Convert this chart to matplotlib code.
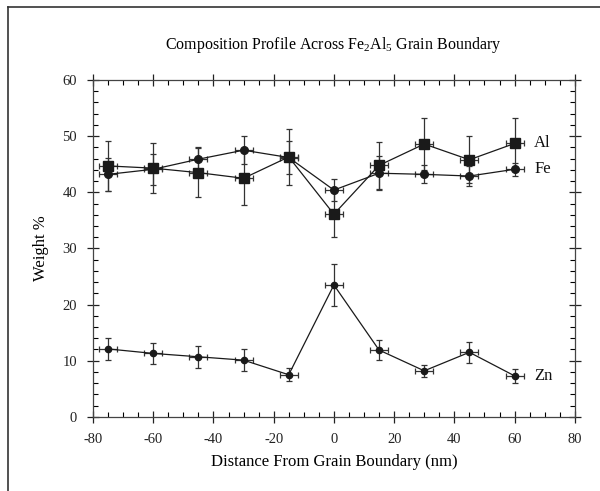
import matplotlib
matplotlib.use("Agg")
import matplotlib.pyplot as plt
from matplotlib.lines import Line2D
from matplotlib.ticker import MultipleLocator

plt.rcParams['font.family'] = ['Liberation Serif', 'DejaVu Serif']
plt.rcParams['axes.unicode_minus'] = False
plt.rcParams['mathtext.fontset'] = 'custom'
plt.rcParams['mathtext.rm'] = 'Liberation Serif'
plt.rcParams['mathtext.it'] = 'Liberation Serif:italic'
plt.rcParams['mathtext.bf'] = 'Liberation Serif:bold'

distance = [-75, -60, -45, -30, -15, 0, 15, 30, 45, 60]
dist_err = [3, 3, 3, 3, 3, 3, 3, 3, 3, 3]

al = [44.7, 44.3, 43.5, 42.5, 46.3, 36.1, 44.8, 48.6, 45.8, 48.7]
al_err = [4.5, 4.5, 4.4, 4.8, 5.0, 4.0, 4.2, 4.7, 4.2, 4.6]

fe = [43.2, 44.1, 45.9, 47.5, 46.2, 40.4, 43.4, 43.2, 42.9, 44.1]
fe_err = [3.0, 2.8, 2.2, 2.5, 3.0, 2.0, 3.0, 1.6, 1.8, 1.2]

zn = [12.1, 11.3, 10.7, 10.1, 7.5, 23.5, 11.9, 8.2, 11.5, 7.3]
zn_err = [2.0, 1.9, 2.0, 2.0, 1.2, 3.7, 1.8, 1.1, 1.9, 1.2]

fig = plt.figure(figsize=(6.0, 4.91), dpi=100)
ax = fig.add_axes([0.155, 0.151, 0.803, 0.686])

col = '#1a1a1a'
common = dict(color=col, ecolor='#333333', elinewidth=0.9, capsize=2.5, capthick=0.9, lw=0.9)
ax.errorbar(distance, al, yerr=al_err, xerr=dist_err, marker='s', ms=7, **common)
ax.errorbar(distance, fe, yerr=fe_err, xerr=dist_err, marker='o', ms=5.5, **common)
ax.errorbar(distance, zn, yerr=zn_err, xerr=dist_err, marker='o', ms=4.5, **common)

for name, vals in (('Al', al), ('Fe', fe), ('Zn', zn)):
    ax.annotate(name, xy=(distance[-1], vals[-1]), xytext=(14, 0), textcoords='offset points',
                va='center', ha='left', fontsize=12, color='#111111')

ax.set_xlim(-80, 80)
ax.set_ylim(0, 60)
ax.xaxis.set_major_locator(MultipleLocator(20))
ax.xaxis.set_minor_locator(MultipleLocator(5))
ax.yaxis.set_major_locator(MultipleLocator(10))
ax.yaxis.set_minor_locator(MultipleLocator(2))
ax.tick_params(which='major', direction='inout', length=9, width=0.9, top=True, right=True,
               labelsize=10.5, colors='#222222', pad=7)
ax.tick_params(which='minor', direction='in', length=3.5, width=0.8, top=True, right=True)
for s in ax.spines.values():
    s.set_linewidth(0.9)
    s.set_color('#444444')

ax.set_xlabel('Distance From Grain Boundary (nm)', fontsize=12, labelpad=6)
ax.set_ylabel('Weight %', fontsize=12, labelpad=10)
fig.text(0.555, 0.908, r'Composition Profile Across Fe$_\mathregular{2}$Al$_\mathregular{5}$ Grain Boundary',
         ha='center', va='center', fontsize=11.5)

fig.add_artist(Line2D([0.014, 0.014], [0.0, 0.985], transform=fig.transFigure, color='#333333', lw=1.2))
fig.add_artist(Line2D([0.014, 1.0], [0.985, 0.985], transform=fig.transFigure, color='#333333', lw=1.2))

fig.savefig('out.png', dpi=100)
